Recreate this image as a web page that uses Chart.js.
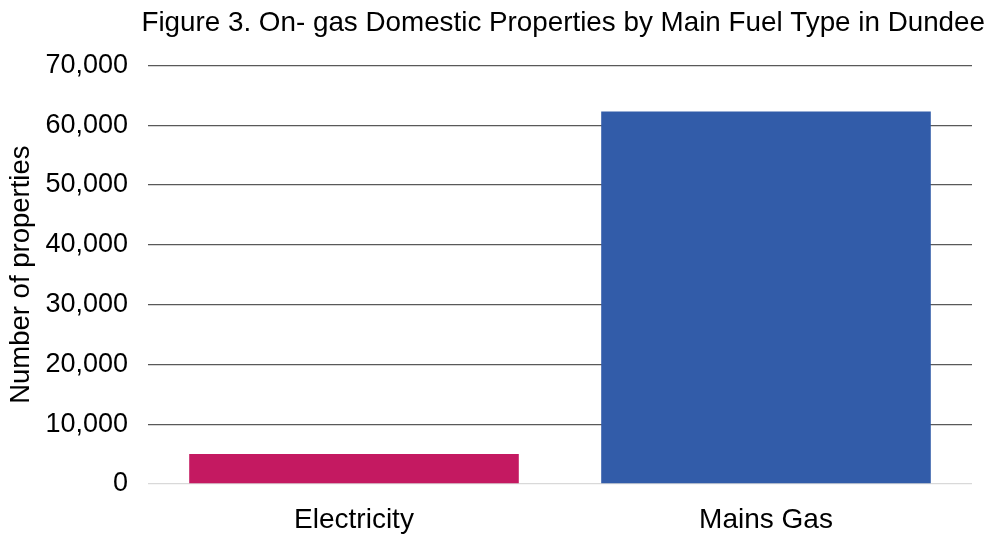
<!DOCTYPE html>
<html>
<head>
<meta charset="utf-8">
<script src="https://cdn.jsdelivr.net/npm/chart.js@4"></script>
<style>
  html, body { margin: 0; padding: 0; background: #fff; }
  #wrap { width: 994px; height: 535px; }
</style>
</head>
<body>
<div id="wrap"><canvas id="fuelChart"></canvas></div>
<script>
const categories = ['Electricity', 'Mains Gas'];
const properties = [5010, 62300];
const barColours = ['#c41961', '#325ca9'];
const yTicks = [0, 10000, 20000, 30000, 40000, 50000, 60000, 70000];

const font = 'Liberation Sans, Arial, sans-serif';

const ctx = document.getElementById('fuelChart').getContext('2d');
const fuelChart = new Chart(ctx, {
  type: 'bar',
  data: {
    labels: categories,
    datasets: [{
      data: properties,
      backgroundColor: barColours,
      categoryPercentage: 1,
      barPercentage: 0.8
    }]
  },
  options: {
    responsive: true,
    maintainAspectRatio: false,
    animation: false,
    layout: { padding: { left: 5, right: 9, top: 7, bottom: 0 } },
    plugins: {
      legend: { display: false },
      tooltip: { enabled: false },
      title: {
        display: true,
        align: 'end',
        text: 'Figure 3. On- gas Domestic Properties by Main Fuel Type in Dundee',
        color: '#000',
        font: { family: font, size: 27.8, weight: 'normal' },
        padding: { top: 0, bottom: 25 }
      }
    },
    scales: {
      x: {
        grid: { display: false, drawTicks: false },
        border: { display: false },
        ticks: {
          color: '#000',
          font: { family: font, size: 28 },
          padding: 19
        },
        afterFit: (s) => { s.height = 51; }
      },
      y: {
        min: 0,
        max: 70000,
        afterBuildTicks: (axis) => { axis.ticks = yTicks.map(v => ({ value: v })); },
        border: { display: false },
        grid: {
          drawTicks: false,
          lineWidth: 1.3,
          color: (c) => c.tick && c.tick.value === 0 ? '#d9d9d9' : '#595959'
        },
        ticks: {
          color: '#000',
          font: { family: font, size: 27 },
          padding: 20
        },
        title: {
          display: true,
          text: 'Number of properties',
          color: '#000',
          font: { family: font, size: 27.5 },
          padding: { top: 0, bottom: 0 }
        },
        afterFit: (s) => { s.width = 143; }
      },
      // empty right-hand spacer so the plot ends short of the title's right edge
      yRight: {
        position: 'right',
        display: true,
        grid: { display: false },
        border: { display: false },
        ticks: { display: false },
        afterFit: (s) => { s.width = 13; }
      }
    }
  }
});
</script>
</body>
</html>
